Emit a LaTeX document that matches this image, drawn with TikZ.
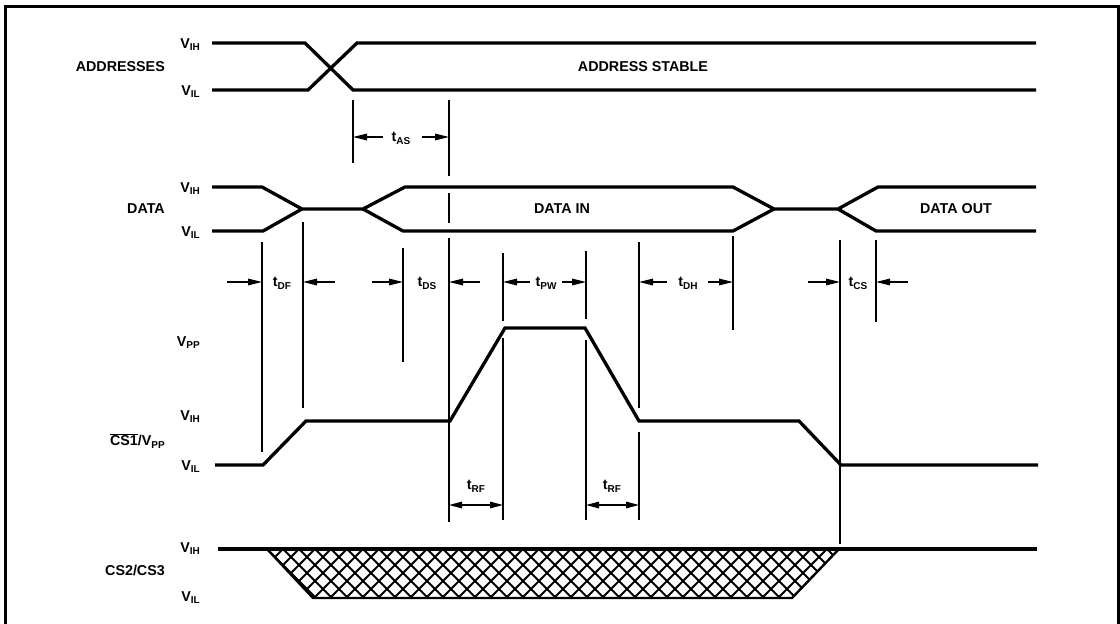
\documentclass[tikz,border=0pt]{standalone}
\usepackage{fontspec}
\setmainfont{Liberation Sans}
\usetikzlibrary{arrows.meta}
\newcommand{\lsub}[2]{#1\raisebox{-2.8pt}{\fontsize{10}{10}\selectfont #2}}
\tikzset{
  wave/.style={line width=3.3pt, line cap=butt, line join=miter},
  edgeline/.style={line width=2.4pt, line join=miter},
  hatchline/.style={line width=1.8pt},
  dim/.style={line width=1.4pt},
  arr/.style={line width=1.4pt, -{Triangle[length=14pt,width=6.5pt]}},
  darr/.style={line width=1.4pt, {Triangle[length=13pt,width=6.5pt]}-{Triangle[length=13pt,width=6.5pt]}},
  lbl/.style={font=\bfseries\fontsize{14.3}{14.3}\selectfont, inner sep=0pt},
  vlab/.style={lbl, anchor=base east},
  sig/.style={lbl, anchor=east},
  frame/.style={line width=3pt}
}
\begin{document}
\begin{tikzpicture}[x=1pt,y=-1pt]
\useasboundingbox[fill=white] (0,0) rectangle (1120,624);
% frame
\draw[frame] (5.5,626) -- (5.5,6) -- (1118,6) -- (1118,626);

% ---------- ADDRESSES ----------
\node[sig] (addr) at (165,67) {ADDRESSES};
\node[vlab] (aih) at (200,48) {\lsub{V}{IH}};
\node[vlab] (ail) at (200,95) {\lsub{V}{IL}};
\draw[wave] (212,43) -- (305,43) -- (353,90) -- (1036,90);
\draw[wave] (212,90) -- (308,90) -- (357,43) -- (1036,43);
\node[lbl] (stable) at (643,67) {ADDRESS STABLE};

% ---------- DATA ----------
\node[sig] (data) at (165,209) {DATA};
\node[vlab] (dih) at (200,192) {\lsub{V}{IH}};
\node[vlab] (dil) at (200,236) {\lsub{V}{IL}};
\draw[wave] (212,187) -- (262,187) -- (302,209) -- (363,209) -- (405,187) -- (733,187) -- (774,209) -- (838,209) -- (878,187) -- (1036,187);
\draw[wave] (212,231) -- (263,231) -- (302,209);
\draw[wave] (363,209) -- (403,231) -- (733,231) -- (774,209);
\draw[wave] (838,209) -- (876,231) -- (1036,231);
\node[lbl] (din) at (562,209) {DATA IN};
\node[lbl] (dout) at (956,209) {DATA OUT};

% ---------- CS1/VPP ----------
\node[vlab] (cpp) at (200,346) {\lsub{V}{PP}};
\node[vlab] (cih) at (200,420) {\lsub{V}{IH}};
\node[vlab] (cil) at (200,470) {\lsub{V}{IL}};
\node[sig] (cs1) at (165,441) {$\overline{\hbox{\bfseries\fontsize{14.3}{14.3}\selectfont CS1}}$/\lsub{V}{PP}};
\draw[wave] (215,465) -- (263,465) -- (306,421) -- (450,421) -- (505,328) -- (585,328) -- (639,421) -- (799,421) -- (841,465) -- (1038,465);

% ---------- CS2/CS3 ----------
\node[vlab] (sih) at (200,552) {\lsub{V}{IH}};
\node[vlab] (sil) at (200,601) {\lsub{V}{IL}};
\node[sig] (cs2) at (165,570) {CS2/CS3};
\begin{scope}
  \clip (267,549) -- (313,598) -- (792,598) -- (839,549) -- cycle;
  \foreach \c in {219,235,...,900} {
    \draw[hatchline] (\c,549) -- ++(49,49);
    \draw[hatchline] (\c,549) -- ++(-49,49);
  }
\end{scope}
\draw[edgeline] (267,549) -- (313,598) -- (792,598) -- (839,549);
\draw[wave] (218,549) -- (1037,549);

% ---------- extension lines ----------
\draw[dim] (353,100) -- (353,163);
\draw[dim] (449,100) -- (449,176);
\draw[dim] (449,193) -- (449,223);
\draw[dim] (449,238) -- (449,522);
\draw[dim] (262,242) -- (262,452);
\draw[dim] (303,222) -- (303,408);
\draw[dim] (403,248) -- (403,362);
\draw[dim] (503,253) -- (503,321);
\draw[dim] (503,338) -- (503,520);
\draw[dim] (586,251) -- (586,319);
\draw[dim] (586,340) -- (586,520);
\draw[dim] (639,242) -- (639,408);
\draw[dim] (639,432) -- (639,520);
\draw[dim] (733,236) -- (733,330);
\draw[dim] (840,240) -- (840,544);
\draw[dim] (876,240) -- (876,322);

% ---------- timing arrows ----------
\coordinate (as1) at (383,137); \coordinate (as1e) at (353,137);
\coordinate (as2) at (422,137); \coordinate (as2e) at (449,137);
\draw[arr] (as1) -- (as1e);
\draw[arr] (as2) -- (as2e);
\node[lbl] (tas) at (401,138) {\lsub{t}{AS}};

\draw[arr] (227,282) -- (262,282);
\draw[arr] (335,282) -- (303,282);
\node[lbl] (tdf) at (282,283) {\lsub{t}{DF}};

\draw[arr] (372,282) -- (403,282);
\draw[arr] (480,282) -- (449,282);
\node[lbl] (tds) at (427,283) {\lsub{t}{DS}};

\draw[arr] (530,282) -- (503,282);
\draw[arr] (562,282) -- (586,282);
\node[lbl] (tpw) at (546,283) {\lsub{t}{PW}};

\draw[arr] (667,282) -- (639,282);
\draw[arr] (708,282) -- (733,282);
\node[lbl] (tdh) at (688,283) {\lsub{t}{DH}};

\draw[arr] (808,282) -- (840,282);
\draw[arr] (908,282) -- (876,282);
\node[lbl] (tcs) at (858,283) {\lsub{t}{CS}};

\draw[darr] (449,505) -- (503,505);
\node[lbl] (trf1) at (476,486) {\lsub{t}{RF}};
\draw[darr] (586,505) -- (639,505);
\node[lbl] (trf2) at (612,486) {\lsub{t}{RF}};
\end{tikzpicture}
\end{document}
